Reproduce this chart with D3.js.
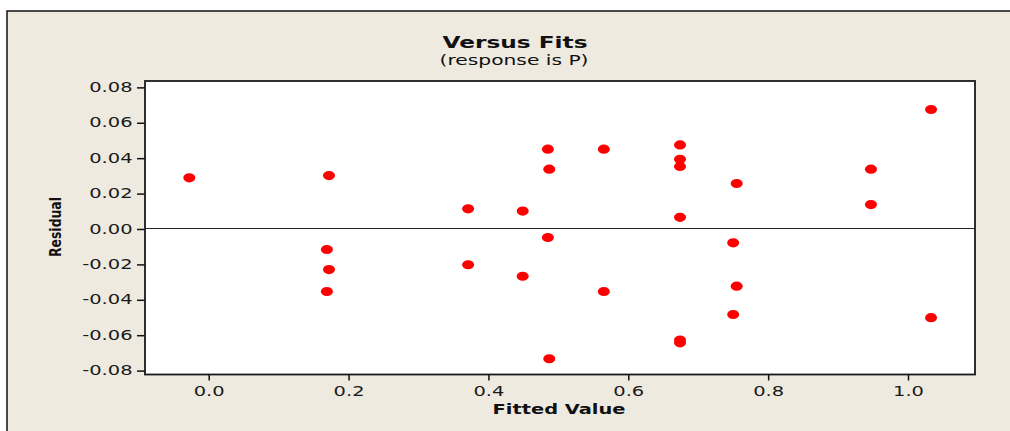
<!DOCTYPE html>
<html>
<head>
<meta charset="utf-8">
<script src="https://cdn.jsdelivr.net/npm/d3@7"></script>
<style>
  html, body { margin: 0; padding: 0; background: #ffffff; }
  svg { display: block; }
</style>
</head>
<body>
<svg id="chart" width="1010" height="431"></svg>
<script>
// ---- data ----
const fittedValues = [
  -0.0277, 0.172, 0.169, 0.172, 0.169,
  0.371, 0.371, 0.449, 0.449,
  0.485, 0.487, 0.485, 0.487,
  0.565, 0.565,
  0.674, 0.674, 0.674, 0.674, 0.674, 0.674,
  0.755, 0.750, 0.755, 0.750,
  0.947, 0.947,
  1.033, 1.033
];
const residuals = [
  0.0289, 0.0302, -0.0116, -0.0229, -0.0353,
  0.0114, -0.0202, 0.0101, -0.0267,
  0.0451, 0.0338, -0.0048, -0.0733,
  0.0451, -0.0353,
  0.0475, 0.0394, 0.0353, 0.0066, -0.0627, -0.0643,
  0.0257, -0.0078, -0.0323, -0.0483,
  0.0338, 0.0138,
  0.0675, -0.0501
];
const xTicks = [0.0, 0.2, 0.4, 0.6, 0.8, 1.0];
const xTickLabels = ["0.0", "0.2", "0.4", "0.6", "0.8", "1.0"];
const yTicks = [-0.08, -0.06, -0.04, -0.02, 0.00, 0.02, 0.04, 0.06, 0.08];
const yTickLabels = ["-0.08", "-0.06", "-0.04", "-0.02", "0.00", "0.02", "0.04", "0.06", "0.08"];
const titleText = "Versus Fits";
const subtitleText = "(response is P)";
const xTitle = "Fitted Value";
const yTitle = "Residual";

// ---- layout ----
const plot = { left: 145, top: 81, right: 975, bottom: 374.5 };
const FONT = "'DejaVu Sans', Verdana, sans-serif";
const BG = "#EEEAE0";

const svg = d3.select("#chart");

// outer panel
svg.append("rect")
  .attr("x", 7).attr("y", 11).attr("width", 1200).attr("height", 600)
  .attr("fill", BG).attr("stroke", "#111").attr("stroke-width", 1.5);

const x = d3.scaleLinear().domain([-0.0911, 1.0958]).range([plot.left, plot.right]);
const y = d3.scaleLinear().domain([-0.0822, 0.0836]).range([plot.bottom, plot.top]);

// plot area background
svg.append("rect")
  .attr("x", plot.left).attr("y", plot.top)
  .attr("width", plot.right - plot.left).attr("height", plot.bottom - plot.top)
  .attr("fill", "#ffffff");

// zero reference line
svg.append("line")
  .attr("x1", plot.left).attr("x2", plot.right)
  .attr("y1", y(0)).attr("y2", y(0))
  .attr("stroke", "#222").attr("stroke-width", 1)
  .attr("shape-rendering", "crispEdges");

// stretch helper for wide Minitab-like lettering
function stretch(sel, factor) {
  sel.each(function () {
    const n = this.getComputedTextLength();
    d3.select(this).attr("textLength", n * factor).attr("lengthAdjust", "spacingAndGlyphs");
  });
}

// y axis
const yAxis = d3.axisLeft(y)
  .tickValues(yTicks)
  .tickFormat((d, i) => yTickLabels[i])
  .tickSize(8).tickPadding(4);
const gy = svg.append("g").attr("transform", `translate(${plot.left},0)`).call(yAxis);
gy.select(".domain").remove();
gy.selectAll(".tick line").attr("stroke", "#111").attr("stroke-width", 1.5);
gy.selectAll(".tick text")
  .attr("fill", "#1a1a1a").style("font-family", FONT).style("font-size", "13.5px")
  .attr("x", -12.5).attr("dy", "0.30em")
  .call(stretch, 1.44);

// x axis
const xAxis = d3.axisBottom(x)
  .tickValues(xTicks)
  .tickFormat((d, i) => xTickLabels[i])
  .tickSize(6).tickPadding(5.5);
const gx = svg.append("g").attr("transform", `translate(0,${plot.bottom})`).call(xAxis);
gx.select(".domain").remove();
gx.selectAll(".tick line").attr("stroke", "#111").attr("stroke-width", 1.5);
gx.selectAll(".tick text")
  .attr("fill", "#1a1a1a").style("font-family", FONT).style("font-size", "13.5px")
  .call(stretch, 1.44);

// plot frame
svg.append("rect")
  .attr("x", plot.left).attr("y", plot.top)
  .attr("width", plot.right - plot.left).attr("height", plot.bottom - plot.top)
  .attr("fill", "none").attr("stroke", "#1a1a1a").attr("stroke-width", 1.8);

// points
const pts = fittedValues.map((v, i) => ({ fit: v, res: residuals[i] }));
svg.append("g").selectAll("ellipse")
  .data(pts).join("ellipse")
  .attr("cx", d => x(d.fit)).attr("cy", d => y(d.res))
  .attr("rx", 6).attr("ry", 4.6)
  .attr("fill", "#ff0000");

// titles
svg.append("text")
  .attr("x", 515).attr("y", 47.5).attr("text-anchor", "middle")
  .style("font-family", FONT).style("font-size", "15.5px").style("font-weight", "bold")
  .attr("fill", "#111").attr("textLength", 145).attr("lengthAdjust", "spacingAndGlyphs")
  .text(titleText);

svg.append("text")
  .attr("x", 514).attr("y", 65).attr("text-anchor", "middle")
  .style("font-family", FONT).style("font-size", "14px")
  .attr("fill", "#111").attr("textLength", 149).attr("lengthAdjust", "spacingAndGlyphs")
  .text(subtitleText);

svg.append("text")
  .attr("x", 559).attr("y", 414).attr("text-anchor", "middle")
  .style("font-family", FONT).style("font-size", "14.5px").style("font-weight", "bold")
  .attr("fill", "#111").attr("textLength", 133).attr("lengthAdjust", "spacingAndGlyphs")
  .text(xTitle);

svg.append("text")
  .attr("transform", "translate(60.5,227) rotate(-90)")
  .attr("text-anchor", "middle")
  .style("font-family", FONT).style("font-size", "15px").style("font-weight", "bold")
  .attr("fill", "#111").attr("textLength", 60).attr("lengthAdjust", "spacingAndGlyphs")
  .text(yTitle);
</script>
</body>
</html>
